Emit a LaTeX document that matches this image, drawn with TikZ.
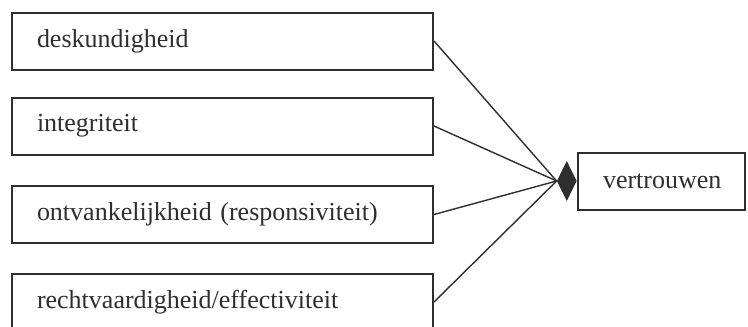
\documentclass[tikz,border=0pt]{standalone}
\usepackage{fontspec}
\setmainfont{Liberation Serif}
\usetikzlibrary{shapes.geometric}
\definecolor{ink}{HTML}{2E2E2E}
\tikzset{
	factor/.style={draw=ink, line width=2pt, text=ink, anchor=west, minimum height=57pt,
		text width=371pt, inner xsep=25pt, align=left, font=\fontsize{26}{31}\selectfont},
	link/.style={draw=ink, line width=1.4pt}
}
\begin{document}
\begin{tikzpicture}[x=1pt,y=-1pt]
		\useasboundingbox (0,0) rectangle (748,327);
		\node[factor] (desk) at (11,41) {deskundigheid};
		\node[factor] (integ) at (11,126) {integriteit};
		\node[factor] (ontv) at (11,214.5) {ontvankelijkheid (responsiviteit)};
		\node[factor] (recht) at (11,302) {rechtvaardigheid/effectiviteit};
		\node[factor, text width=117pt, inner xsep=25pt] (vert) at (577,181) {vertrouwen};
		\node[diamond, fill=ink, inner sep=0pt, minimum width=20pt, minimum height=40pt, anchor=east] (hub) at (vert.west) {};
		\foreach \src in {desk,integ,ontv,recht} \draw[link] (\src.east) -- (hub.west);
	\end{tikzpicture}
\end{document}
